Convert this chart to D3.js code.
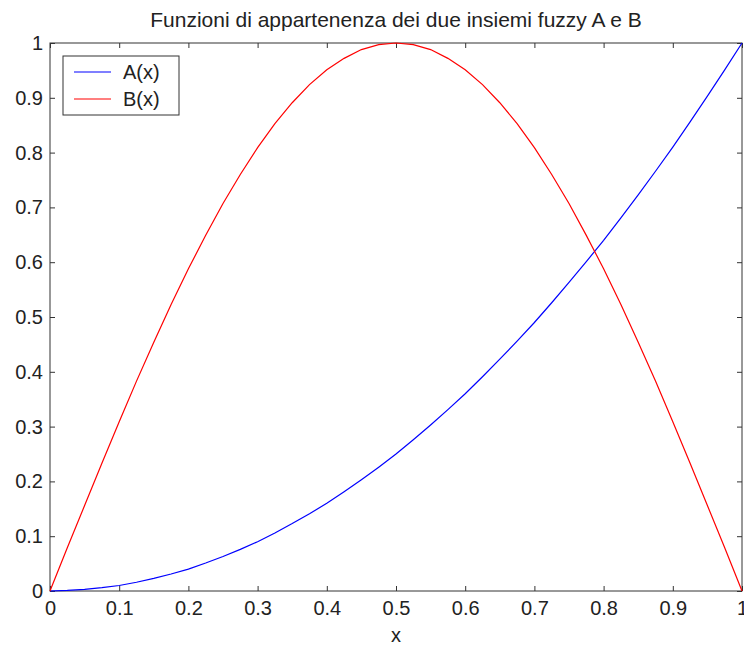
<!DOCTYPE html>
<meta charset="utf-8">
<style>
body { margin: 0; background: #fff; }
svg text { font-family: "Liberation Sans", Arial, sans-serif; fill: #222; }
.axis path, .axis line { stroke: #333; }
</style>
<svg width="744" height="648"></svg>
<script src="https://d3js.org/d3.v7.min.js"></script>
<script>

// x sampled every 0.025
var xs = [0, 0.025, 0.05, 0.075, 0.1, 0.125, 0.15, 0.175, 0.2, 0.225, 0.25, 0.275, 0.3, 0.325,
  0.35, 0.375, 0.4, 0.425, 0.45, 0.475, 0.5, 0.525, 0.55, 0.575, 0.6, 0.625, 0.65, 0.675,
  0.7, 0.725, 0.75, 0.775, 0.8, 0.825, 0.85, 0.875, 0.9, 0.925, 0.95, 0.975, 1];

var valuesA = [0, 0.001, 0.003, 0.006, 0.010, 0.016, 0.023, 0.031, 0.040, 0.051, 0.063, 0.076,
  0.090, 0.106, 0.123, 0.141, 0.160, 0.181, 0.203, 0.226, 0.250, 0.276, 0.303, 0.331, 0.360,
  0.391, 0.423, 0.456, 0.490, 0.526, 0.563, 0.601, 0.640, 0.681, 0.723, 0.766, 0.810, 0.856,
  0.903, 0.951, 1];

var valuesB = [0, 0.079, 0.156, 0.233, 0.309, 0.383, 0.454, 0.523, 0.588, 0.649, 0.707, 0.760,
  0.809, 0.853, 0.891, 0.924, 0.951, 0.972, 0.988, 0.997, 1, 0.997, 0.988, 0.972, 0.951, 0.924,
  0.891, 0.853, 0.809, 0.760, 0.707, 0.649, 0.588, 0.523, 0.454, 0.383, 0.309, 0.233, 0.156,
  0.079, 0];

var tickVals = [0, 0.1, 0.2, 0.3, 0.4, 0.5, 0.6, 0.7, 0.8, 0.9, 1];
var seriesNames = ["A(x)", "B(x)"];
var seriesColors = ["#0000ff", "#ff0000"];

var svg = d3.select("svg");
var mLeft = 50, mRight = 742, mTop = 43, mBottom = 591;

var x = d3.scaleLinear().domain([0, 1]).range([mLeft, mRight]);
var y = d3.scaleLinear().domain([0, 1]).range([mBottom, mTop]);
var fmt = function(d) { return String(d); };

// frame
svg.append("rect")
    .attr("x", mLeft).attr("y", mTop)
    .attr("width", mRight - mLeft).attr("height", mBottom - mTop)
    .attr("fill", "none").attr("stroke", "#333");

svg.append("g").attr("class", "axis")
    .attr("transform", "translate(0," + mBottom + ")")
    .call(d3.axisBottom(x).tickValues(tickVals).tickFormat(fmt).tickSizeInner(-5).tickSizeOuter(0).tickPadding(10));
svg.append("g").attr("class", "axis")
    .attr("transform", "translate(0," + mTop + ")")
    .call(d3.axisTop(x).tickValues(tickVals).tickFormat("").tickSizeInner(-5).tickSizeOuter(0));
svg.append("g").attr("class", "axis")
    .attr("transform", "translate(" + mLeft + ",0)")
    .call(d3.axisLeft(y).tickValues(tickVals).tickFormat(fmt).tickSizeInner(-5).tickSizeOuter(0).tickPadding(7));
svg.append("g").attr("class", "axis")
    .attr("transform", "translate(" + mRight + ",0)")
    .call(d3.axisRight(y).tickValues(tickVals).tickFormat("").tickSizeInner(-5).tickSizeOuter(0));

svg.selectAll(".axis text").style("font-size", "20px").attr("font-family", null);
svg.selectAll(".axis .domain").remove();

var line = d3.line()
    .x(function(d) { return x(d[0]); })
    .y(function(d) { return y(d[1]); });

[valuesA, valuesB].forEach(function(vals, i) {
  svg.append("path")
      .datum(xs.map(function(v, j) { return [v, vals[j]]; }))
      .attr("fill", "none")
      .attr("stroke", seriesColors[i])
      .attr("stroke-width", 1.2)
      .attr("d", line);
});

// title + x label
svg.append("text")
    .attr("x", (mLeft + mRight) / 2).attr("y", 27)
    .attr("text-anchor", "middle")
    .style("font-size", "21px")
    .text("Funzioni di appartenenza dei due insiemi fuzzy A e B");
svg.append("text")
    .attr("x", (mLeft + mRight) / 2).attr("y", 642)
    .attr("text-anchor", "middle")
    .style("font-size", "20px")
    .text("x");

// legend
var legend = svg.append("g");
legend.append("rect")
    .attr("x", 63).attr("y", 56).attr("width", 116).attr("height", 59)
    .attr("fill", "#fff").attr("stroke", "#333");
seriesNames.forEach(function(name, i) {
  var ly = 72 + i * 27;
  legend.append("line")
      .attr("x1", 74).attr("x2", 111).attr("y1", ly).attr("y2", ly)
      .attr("stroke", seriesColors[i]).attr("stroke-width", 1.2);
  legend.append("text")
      .attr("x", 123).attr("y", ly + 7)
      .style("font-size", "20px")
      .text(name);
});

</script>
